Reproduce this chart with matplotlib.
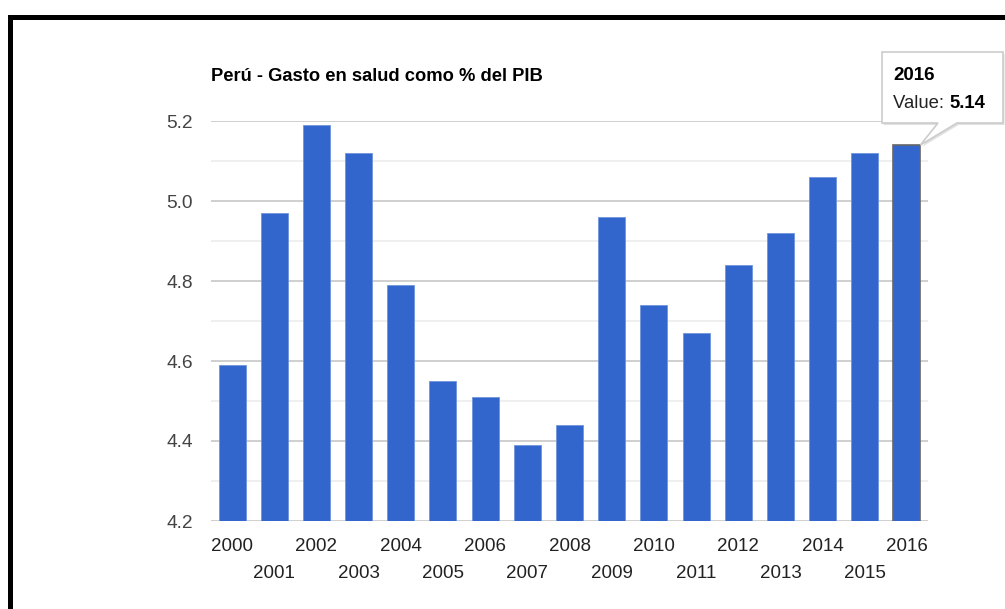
import matplotlib
matplotlib.use('Agg')
import matplotlib.pyplot as plt
from matplotlib.patches import Rectangle, Polygon
import numpy as np

years = [str(y) for y in range(2000, 2017)]
gasto = [4.59, 4.97, 5.19, 5.12, 4.79, 4.55, 4.51, 4.39, 4.44,
         4.96, 4.74, 4.67, 4.84, 4.92, 5.06, 5.12, 5.14]
titulo = 'Perú - Gasto en salud como % del PIB'
major_ticks = [4.2, 4.4, 4.6, 4.8, 5.0, 5.2]
minor_ticks = [4.3, 4.5, 4.7, 4.9, 5.1]
sel = 16  # barra resaltada (2016)

plt.rcParams['font.family'] = ['Liberation Sans', 'DejaVu Sans']

W, H = 1005, 609
fig = plt.figure(figsize=(W / 100, H / 100), dpi=100)
fig.patch.set_facecolor('white')

# ejes en pixeles de la figura
x0, x1, ytop, ybot = 211, 928, 121, 521
ax = fig.add_axes([x0 / W, 1 - ybot / H, (x1 - x0) / W, (ybot - ytop) / H])

x = np.arange(len(years))
bars = ax.bar(x, gasto, width=0.64, color='#3366cc',
              edgecolor='#6f93dd', linewidth=0.6, zorder=3)
bars[sel].set_edgecolor('#666666')
bars[sel].set_linewidth(1.2)

ax.set_xlim(-0.5, len(years) - 0.5)
ax.set_ylim(4.2, 5.2)

for v in major_ticks:
    ax.axhline(v, color='#cccccc', lw=1.3, zorder=1)
for v in minor_ticks:
    ax.axhline(v, color='#ebebeb', lw=1.1, zorder=1)

for s in ax.spines.values():
    s.set_visible(False)

ax.set_yticks(major_ticks)
ax.set_yticklabels([f'{v:.1f}' for v in major_ticks])
ax.tick_params(axis='y', length=0, pad=13, labelsize=13.8, labelcolor='#444444')

# años pares en la primera fila, impares en la segunda
ax.set_xticks(x[::2])
ax.set_xticklabels(years[::2])
ax.set_xticks(x[1::2], minor=True)
ax.set_xticklabels(years[1::2], minor=True)
ax.tick_params(axis='x', which='major', length=0, pad=12, labelsize=13.5,
               labelcolor='#222222')
ax.tick_params(axis='x', which='minor', length=0, pad=32, labelsize=13.5,
               labelcolor='#222222')

fig.text(x0 / W, 1 - 81 / H, titulo, fontsize=13.2, fontweight='bold',
         color='#000000', ha='left', va='baseline')

# capa superior en pixeles para el marco y el tooltip
ov = fig.add_axes([0, 0, 1, 1], zorder=10)
ov.set_xlim(0, W)
ov.set_ylim(H, 0)
ov.axis('off')
ov.patch.set_alpha(0)

ov.add_patch(Rectangle((8, 15), W - 8, 5, color='black', lw=0))
ov.add_patch(Rectangle((8, 15), 5, H - 15, color='black', lw=0))

# punta del tooltip en la esquina superior derecha de la barra
fig.canvas.draw()
tip_disp = ax.transData.transform((x[sel] + 0.32, gasto[sel]))
tx, ty = ov.transData.inverted().transform(tip_disp)

bx0, bx1, by0, by1 = 882, 1003, 52, 123
shape = [(bx0, by0), (bx1, by0), (bx1, by1), (957, by1), (tx, ty),
         (938, by1), (bx0, by1)]
shadow = Polygon([(px + 1.5, py + 2) for px, py in shape], closed=True,
                 facecolor='#000000', alpha=0.12, lw=0)
ov.add_patch(shadow)
ov.add_patch(Polygon(shape, closed=True, facecolor='white',
                     edgecolor='#cccccc', lw=1.2))

ov.text(893, 80, years[sel], fontsize=13.5, fontweight='bold', color='#000000',
        ha='left', va='baseline')
t1 = ov.text(893, 108, 'Value: ', fontsize=13.3, color='#222222',
             ha='left', va='baseline')
fig.canvas.draw()
bb = t1.get_window_extent()
vx = ov.transData.inverted().transform((bb.x1, bb.y0))[0]
ov.text(vx, 108, f'{gasto[sel]:.2f}', fontsize=13.3, fontweight='bold',
        color='#000000', ha='left', va='baseline')

fig.savefig('out.png', dpi=100)
